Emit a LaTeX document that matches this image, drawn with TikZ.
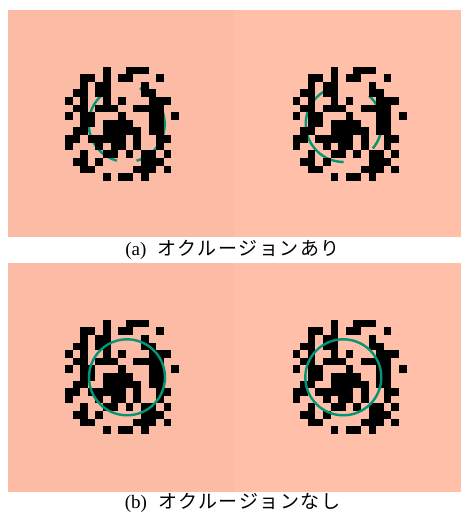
\documentclass[tikz,border=0pt]{standalone}
\usepackage{fontspec}
\setmainfont{Liberation Serif}
\newfontfamily\jpfont[LetterSpace=8]{Noto Sans CJK JP}
\definecolor{peachL}{RGB}{252,187,165}
\definecolor{peachR}{RGB}{255,191,169}
\definecolor{ringgreen}{RGB}{0,150,118}
\newcommand{\dotfield}[2]{%
  \foreach \row/\cols in {0/{5,8,9,10},1/{2,3,5,7,8,12},2/{2,4,5,10},3/{1,2,4,5,10,11},
      4/{0,2,5,7,11,12,13},5/{1,2,4,5,6,9,10,11,12},6/{0,2,3,7,11,12,14},
      7/{2,3,5,6,7,8,11,12},8/{1,2,5,6,7,8,9,11,12},9/{0,1,3,4,5,6,7,9,12,13},
      10/{0,4,6,7,9,12},11/{2,5,6,8,10,11,13},12/{1,2,4,10,11,12},
      13/{2,3,9,10,11,13},14/{5,7,8,10}}
    \foreach \col in \cols
      \fill[cell] ({#1+\col*7.6},{#2+\row*7.6}) rectangle ++(7.6,7.6);}

\begin{document}
\begin{tikzpicture}[x=1pt,y=-1pt,
    cell/.style={fill=black},
    ring/.style={draw=ringgreen,line width=2.4pt},
    caption/.style={font=\fontsize{19}{21}\selectfont,inner sep=0pt}]
\useasboundingbox (0,0) rectangle (461,513);
\fill[peachL] (8,10) rectangle (234,237);
\fill[peachR] (234,10) rectangle (461,237);
\fill[peachL] (8,263) rectangle (234,492);
\fill[peachR] (234,263) rectangle (461,492);
% (a)
\draw[ring] (126.7,124) ++(-130:38) arc[start angle=-130,end angle=-255,radius=38];
\draw[ring] (126.7,124) ++(75:38) arc[start angle=75,end angle=-70,radius=38];
\draw[ring] (343.7,124) ++(-103:38) arc[start angle=-103,end angle=-270,radius=38];
\draw[ring] (343.7,124) ++(40:38) arc[start angle=40,end angle=-48,radius=38];
\dotfield{65}{66.7}
\dotfield{292.5}{66.7}
% (b)
\dotfield{65}{319.7}
\dotfield{292.5}{319.7}
\draw[ring] (127,377.3) circle (38);
\draw[ring] (343.3,377.3) circle (38);
\node[caption] (capA) at (232.5,250) {(a)\hspace{0.6em}{\jpfont オクルージョンあり}};
\node[caption] (capB) at (232.5,503) {(b)\hspace{0.6em}{\jpfont オクルージョンなし}};
\end{tikzpicture}
\end{document}
